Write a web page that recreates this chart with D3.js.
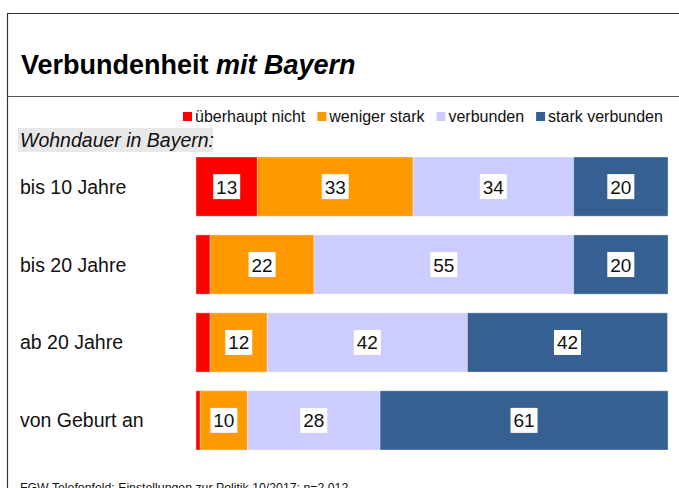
<!DOCTYPE html>
<html>
<head>
<meta charset="utf-8">
<script src="https://cdn.jsdelivr.net/npm/d3@7"></script>
<style>
  body { margin: 0; background: #fff; }
  svg { display: block; font-family: "Liberation Sans", Arial, sans-serif; }
</style>
</head>
<body>
<script>
const categories = ["bis 10 Jahre", "bis 20 Jahre", "ab 20 Jahre", "von Geburt an"],
      seriesNames = ["überhaupt nicht", "weniger stark", "verbunden", "stark verbunden"],
      seriesColors = ["#ff0000", "#ff9900", "#ccccff", "#366092"],
      ueberhauptNicht = [13, 3, 3, 0.9],
      wenigerStark = [33, 22, 12.1, 10],
      verbunden = [34, 55, 42.4, 28.1],
      starkVerbunden = [20, 20, 42.4, 61];

const width = 679, height = 488;

const svg = d3.select("body").append("svg")
  .attr("width", width)
  .attr("height", height);

// frame
svg.append("path")
  .attr("d", "M7.5,488 V13.5 H679")
  .attr("fill", "none")
  .attr("stroke", "#333")
  .attr("stroke-width", 1.2);
svg.append("line")
  .attr("x1", 7).attr("x2", 679)
  .attr("y1", 96.5).attr("y2", 96.5)
  .attr("stroke", "#555")
  .attr("stroke-width", 1.2);

// title
const title = svg.append("text")
  .attr("x", 21).attr("y", 74)
  .attr("font-size", 27)
  .attr("font-weight", "bold")
  .attr("fill", "#000");
title.append("tspan").text("Verbundenheit ");
title.append("tspan").attr("font-style", "italic").text("mit Bayern");

const x = d3.scaleLinear().domain([0, 100]).range([196, 668]);
const y = d3.scaleBand().domain(categories).range([157, 450]).paddingInner(0.24);

const table = categories.map((c, i) => {
  const vals = [ueberhauptNicht[i], wenigerStark[i], verbunden[i], starkVerbunden[i]];
  let acc = 0;
  return vals.map((v, k) => {
    const seg = {cat: c, k: k, v: v, x0: acc, x1: acc + v};
    acc += v;
    return seg;
  });
});

// legend
const legend = svg.append("g").attr("font-size", 16);
let lx = 183;
seriesNames.forEach((name, k) => {
  legend.append("rect")
    .attr("x", lx).attr("y", 112)
    .attr("width", 9).attr("height", 9)
    .attr("fill", seriesColors[k]);
  const t = legend.append("text")
    .attr("x", lx + 12).attr("y", 122)
    .attr("fill", "#111")
    .text(name);
  lx += 12 + t.node().getComputedTextLength() + 12;
});

// subtitle with grey background
svg.append("rect")
  .attr("x", 18).attr("y", 128)
  .attr("width", 195).attr("height", 24)
  .attr("fill", "#e8e8e8");
svg.append("text")
  .attr("x", 20).attr("y", 147)
  .attr("font-size", 19.5)
  .attr("font-style", "italic")
  .attr("fill", "#111")
  .text("Wohndauer in Bayern:");

// category labels
svg.append("g").selectAll("text")
  .data(categories).enter()
  .append("text")
  .attr("x", 20)
  .attr("y", (d) => y(d) + y.bandwidth() / 2 + 7)
  .attr("font-size", 19.5)
  .attr("fill", "#111")
  .text((d) => d);

// bars
const segs = table.flat();
svg.append("g").selectAll("rect")
  .data(segs).enter()
  .append("rect")
  .attr("x", (d) => x(d.x0))
  .attr("y", (d) => y(d.cat))
  .attr("width", (d) => x(d.x1) - x(d.x0))
  .attr("height", y.bandwidth())
  .attr("fill", (d) => seriesColors[d.k])
  .attr("stroke", "rgba(255,255,255,0.35)")
  .attr("stroke-width", 1);

// value labels
const labels = svg.append("g").selectAll("g")
  .data(segs.filter((d) => d.v >= 10)).enter()
  .append("g")
  .attr("transform", (d) => "translate(" + (x((d.x0 + d.x1) / 2)) + "," + (y(d.cat) + y.bandwidth() / 2) + ")");
labels.append("rect")
  .attr("x", -13.5).attr("y", -12.5)
  .attr("width", 27).attr("height", 25)
  .attr("fill", "#fff");
labels.append("text")
  .attr("text-anchor", "middle")
  .attr("y", 7)
  .attr("font-size", 19)
  .attr("fill", "#111")
  .text((d) => Math.round(d.v));

// footer
svg.append("text")
  .attr("x", 20).attr("y", 492)
  .attr("font-size", 12.3)
  .attr("fill", "#111")
  .text("FGW Telefonfeld: Einstellungen zur Politik 10/2017; n=2.012");
</script>
</body>
</html>
